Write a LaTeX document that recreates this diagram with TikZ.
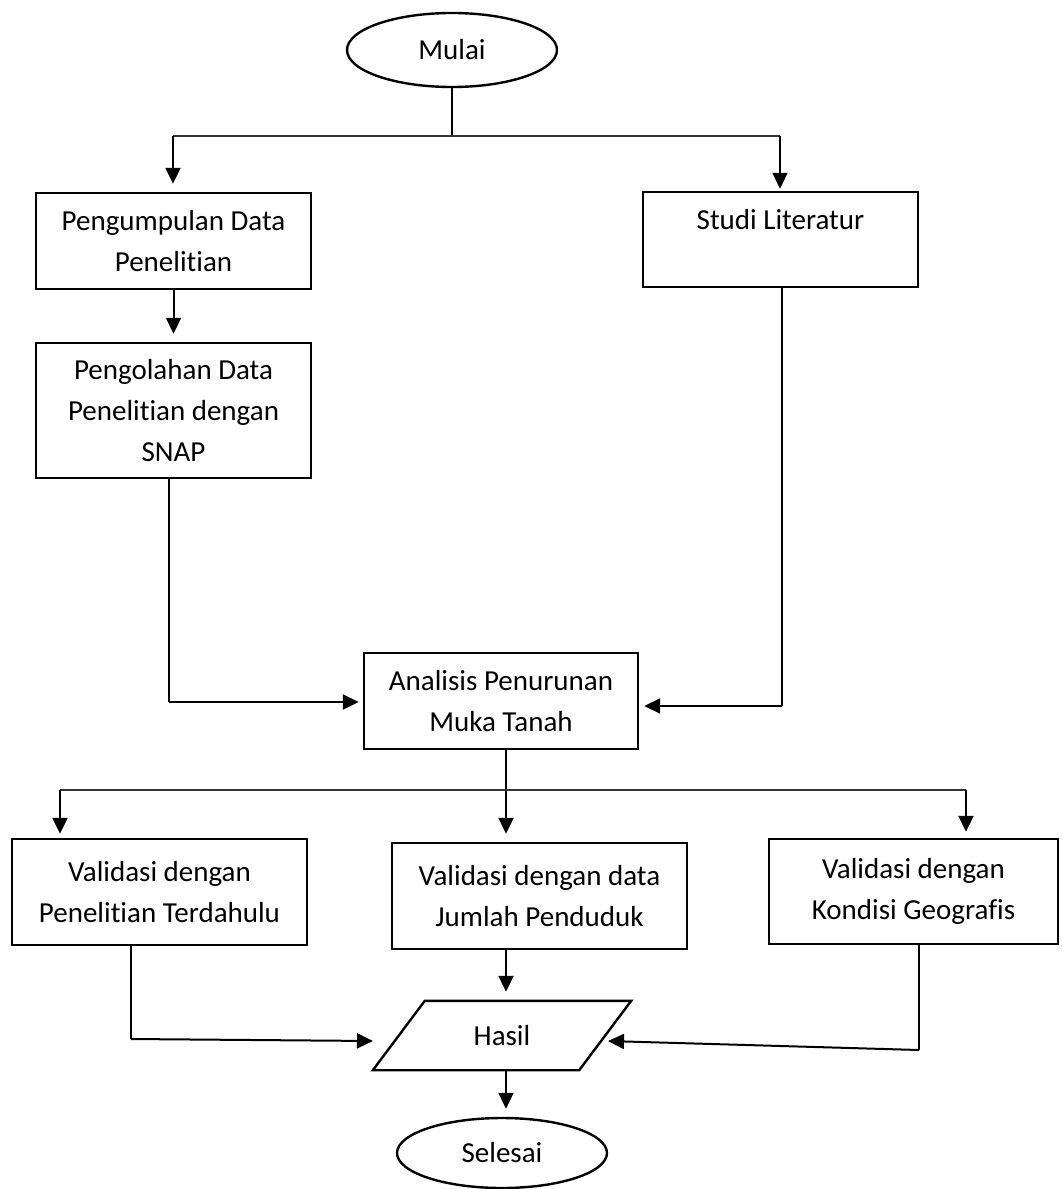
\documentclass[tikz,border=0pt]{standalone}
\usepackage{fontspec}
\setmainfont{Carlito}[Ligatures=NoCommon]
\usetikzlibrary{arrows.meta,shapes.geometric,calc}
\newcommand{\bodyfont}{\fontsize{29}{41}\selectfont}
\tikzset{
  boxnode/.style={draw, line width=2.4pt, align=center, font=\bodyfont, inner sep=0pt},
  ovalnode/.style={draw, ellipse, line width=2.4pt, font=\bodyfont, inner sep=0pt},
  arr/.style={line width=2pt, -{Triangle[length=16pt,width=15pt]}},
  thinline/.style={line width=1.1pt},
}
\begin{document}
\begin{tikzpicture}[x=1pt,y=-1pt]
\useasboundingbox (0,0) rectangle (1061,1189);

% nodes
\node[ovalnode, minimum width=210, minimum height=74] (mulai) at (452,50) {Mulai};
\node[boxnode, minimum width=275, minimum height=96] (pd) at (173.5,241) {Pengumpulan Data\\Penelitian};
\node[boxnode, minimum width=275, minimum height=135] (po) at (173.5,410.5) {Pengolahan Data\\Penelitian dengan\\SNAP};
\node[boxnode, minimum width=275, minimum height=95] (sl) at (780.5,239.5) {Studi Literatur\\\mbox{}};
\node[boxnode, minimum width=274, minimum height=96] (an) at (501,701) {Analisis Penurunan\\Muka Tanah};
\node[boxnode, minimum width=295, minimum height=106] (v1) at (159.5,892) {Validasi dengan\\Penelitian Terdahulu};
\node[boxnode, minimum width=295, minimum height=106] (v2) at (539.5,896) {Validasi dengan data\\Jumlah Penduduk};
\node[boxnode, minimum width=289, minimum height=105] (v3) at (913.5,891.5) {Validasi dengan\\Kondisi Geografis};
\node[font=\bodyfont, minimum width=258, minimum height=69, inner sep=0pt] (hasil) at (502,1035.5) {Hasil};
\draw[line width=2.4pt, line join=miter] (hasil.south west) -- ([xshift=-52]hasil.south east) -- (hasil.north east) -- ([xshift=52]hasil.north west) -- cycle;
\node[ovalnode, minimum width=210, minimum height=70] (selesai) at (502,1153) {Selesai};

% coordinates
\coordinate (s1) at (452,136);
\coordinate (s1l) at (173,136);
\coordinate (s1r) at (780,136);
\coordinate (c1) at (169,702);
\coordinate (c2) at (782,706);
\coordinate (mx) at (506,790);
\coordinate (s2l) at (60,790);
\coordinate (s2r) at (966,790);
\coordinate (c5) at (131,1039);
\coordinate (c5t) at (373,1041);
\coordinate (c6) at (919,1050);
\coordinate (c6t) at (608,1041);

% top split
\draw[thinline] (mulai.south) -- (s1);
\draw[thinline, draw=black!80] (s1l) -- (s1r);
\draw[arr, shorten >=8pt] (s1l) -- (pd.north -| s1l);
\draw[arr, shorten >=2pt] (s1r) -- (sl.north -| s1r);

\draw[arr, shorten >=8pt] (pd.south) -- (po.north);

% into analisis
\draw[thinline] (po.south -| c1) -- (c1);
\draw[arr, shorten >=4pt] (c1) -- (an.west |- c1);
\draw[thinline] (sl.south -| c2) -- (c2);
\draw[arr, shorten >=5pt] (c2) -- (an.east |- c2);

% bottom split
\draw[arr, shorten >=8pt] (an.south -| mx) -- (v2.north -| mx);
\draw[thinline, draw=black!80] (s2l) -- (s2r);
\draw[arr, shorten >=4pt] (s2l) -- (v1.north -| s2l);
\draw[arr, shorten >=6pt] (s2r) -- (v3.north -| s2r);

% into hasil
\draw[arr, shorten >=9pt] (v2.south -| mx) -- (hasil.north -| mx);
\draw[thinline] (v1.south -| c5) -- (c5);
\draw[arr] (c5) -- (c5t);
\draw[thinline] (v3.south -| c6) -- (c6);
\draw[arr] (c6) -- (c6t);

\draw[arr, shorten >=8pt] (hasil.south -| mx) -- (selesai.north -| mx);
\end{tikzpicture}
\end{document}
